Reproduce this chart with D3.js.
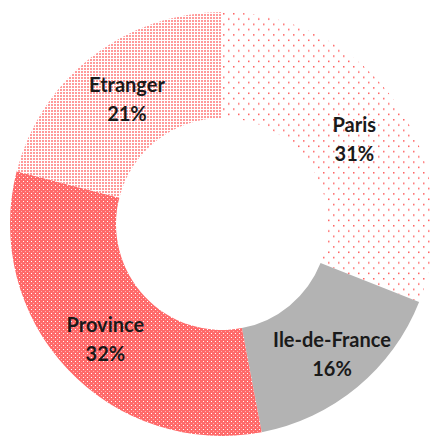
<!DOCTYPE html>
<html>
<head>
<meta charset="utf-8">
<script src="https://cdn.jsdelivr.net/npm/d3@7"></script>
<style>
  body { margin: 0; background: #fff; }
  svg { display: block; }
</style>
</head>
<body>
<div class="chart"></div>
<script>
const labels = ["Paris", "Ile-de-France", "Province", "Etranger"];
const shares = [31, 16, 32, 21];
const fills = ["url(#pParis)", "#b3b3b3", "url(#pProvince)", "url(#pEtranger)"];

const width = 432;
const height = 437;
const cx = 222;
const cy = 224;
const outer = 212;
const inner = 106;

const svg = d3.select(".chart").append("svg")
  .attr("width", width)
  .attr("height", height);

// patterns
const defs = svg.append("defs");

const pParis = defs.append("pattern")
  .attr("id", "pParis")
  .attr("patternUnits", "userSpaceOnUse")
  .attr("width", 10).attr("height", 10.6);
pParis.append("rect").attr("width", 10).attr("height", 10.6).attr("fill", "#fff");
pParis.append("rect").attr("x", 1).attr("y", 1).attr("width", 1.5).attr("height", 1.5).attr("fill", "#ff5c5c");
pParis.append("rect").attr("x", 6).attr("y", 6.3).attr("width", 1.5).attr("height", 1.5).attr("fill", "#ff5c5c");

const pProvince = defs.append("pattern")
  .attr("id", "pProvince")
  .attr("patternUnits", "userSpaceOnUse")
  .attr("width", 4).attr("height", 4);
pProvince.append("rect").attr("width", 4).attr("height", 4).attr("fill", "#ff6a6a");
pProvince.append("rect").attr("x", 1).attr("y", 1).attr("width", 1).attr("height", 1).attr("fill", "#fff");
pProvince.append("rect").attr("x", 3).attr("y", 3).attr("width", 1).attr("height", 1).attr("fill", "#ffb0b0");

const pEtranger = defs.append("pattern")
  .attr("id", "pEtranger")
  .attr("patternUnits", "userSpaceOnUse")
  .attr("width", 3).attr("height", 3);
pEtranger.append("rect").attr("width", 3).attr("height", 3).attr("fill", "#fff");
pEtranger.append("rect").attr("width", 2).attr("height", 2).attr("fill", "#ff9a9a");

const pie = d3.pie().sort(null).value((d) => d);
const arcs = pie(shares);

const arc = d3.arc().innerRadius(inner).outerRadius(outer);
const labelArc = d3.arc().innerRadius(160).outerRadius(160);

const g = svg.append("g").attr("transform", `translate(${cx},${cy})`);

g.selectAll("path")
  .data(arcs)
  .join("path")
  .attr("d", arc)
  .attr("fill", (d, i) => fills[i]);

// labels
const lab = g.selectAll("text")
  .data(arcs)
  .join("text")
  .attr("transform", (d, i) => {
    const c = labelArc.centroid(d);
    if (i === 1) { c[0] += 8; c[1] += 2; }
    if (i === 3) { c[0] += 3; c[1] -= 4; }
    return `translate(${c[0]},${c[1]})`;
  })
  .attr("text-anchor", "middle")
  .style("font-family", "Lato, 'Open Sans', sans-serif")
  .style("font-weight", "bold")
  .style("font-size", "20px")
  .attr("fill", "#1a1a1a");

lab.append("tspan")
  .attr("x", 0).attr("dy", "-0.1em")
  .text((d, i) => labels[i]);
lab.append("tspan")
  .attr("x", 0).attr("dy", "1.45em")
  .text((d, i) => shares[i] + "%");
</script>
</body>
</html>
